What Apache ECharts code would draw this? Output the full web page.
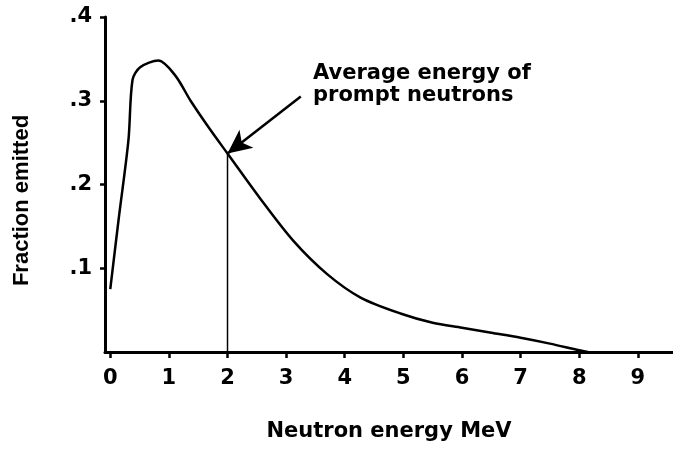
<!DOCTYPE html>
<html>
<head>
<meta charset="utf-8">
<script src="https://cdn.jsdelivr.net/npm/echarts@6/dist/echarts.min.js"></script>
<style>html,body{margin:0;padding:0;background:#fff}#c{width:673px;height:449px}</style>
</head>
<body>
<div id="c"></div>
<script>
const energyMeV = [0, 0.14, 0.31, 0.38, 0.51, 0.82, 1.11, 1.37, 1.71, 2.0, 2.56, 3.12, 3.7, 4.27, 4.95, 5.5, 6.0, 6.5, 7.0, 7.5, 8.0, 8.15];
const fractionEmitted = [0.075, 0.157, 0.253, 0.325, 0.34, 0.348, 0.33, 0.30, 0.265, 0.237, 0.183, 0.133, 0.093, 0.065, 0.046, 0.035, 0.029, 0.023, 0.017, 0.01, 0.002, 0];
const xTicks = [0, 1, 2, 3, 4, 5, 6, 7, 8, 9];
const yTicks = [0.1, 0.2, 0.3, 0.4];
const averageEnergy = [2.0, 0.237];
const arrowTail = [3.25, 0.305];
const annotationLines = ['Average energy of', 'prompt neutrons'];

const wideFont = '"DejaVu Sans", sans-serif';
const narrowFont = '"Liberation Sans", Arial, sans-serif';
const chart = echarts.init(document.getElementById('c'), null, {renderer: 'canvas'});
chart.setOption({
  animation: false,
  backgroundColor: '#fff',
  grid: {left: 105, right: 0, top: 17, bottom: 97},
  xAxis: {
    type: 'value', min: -0.09, max: 9.6,
    name: 'Neutron energy MeV', nameLocation: 'middle', nameGap: 69,
    nameTextStyle: {color: '#000', fontSize: 21, fontWeight: 'bold', fontFamily: wideFont},
    axisLine: {show: true, onZero: false, lineStyle: {color: '#000', width: 3}},
    axisTick: {show: true, customValues: xTicks, length: 6, lineStyle: {color: '#000', width: 2.5}},
    axisLabel: {customValues: xTicks, color: '#000', fontSize: 21, fontWeight: 'bold', fontFamily: wideFont, margin: 16},
    splitLine: {show: false}
  },
  yAxis: {
    type: 'value', min: 0, max: 0.4,
    name: 'Fraction emitted', nameLocation: 'middle', nameGap: 72,
    nameTextStyle: {color: '#000', fontSize: 22, fontWeight: 'bold', fontFamily: narrowFont, padding: [0, 32, 0, 0]},
    axisLine: {show: true, onZero: false, lineStyle: {color: '#000', width: 3}},
    axisTick: {show: true, customValues: yTicks, length: 5, lineStyle: {color: '#000', width: 2.5}},
    axisLabel: {customValues: yTicks, color: '#000', fontSize: 21, fontWeight: 'bold', fontFamily: wideFont, margin: 13,
      formatter: v => String(Math.round(v * 10) / 10).replace(/^0/, '')},
    splitLine: {show: false}
  },
  series: [
    {
      type: 'line', smooth: 0.3, symbol: 'none',
      data: energyMeV.map((x, i) => [x, fractionEmitted[i]]),
      lineStyle: {color: '#000', width: 2.5},
      z: 3,
      markLine: {
        silent: true, animation: false,
        symbol: ['none', 'arrow'], symbolSize: [17, 24],
        label: {show: false},
        lineStyle: {color: '#000', width: 2.5, type: 'solid'},
        data: [[{coord: arrowTail}, {coord: averageEnergy}]]
      }
    },
    {
      type: 'line', symbol: 'none',
      data: [[averageEnergy[0], 0], [averageEnergy[0], averageEnergy[1]]],
      lineStyle: {color: '#000', width: 1.5},
      z: 2
    }
  ],
  graphic: [
    {type: 'text', left: 313, top: 63, style: {text: annotationLines.join('\n'), fill: '#000', font: 'bold 21px ' + wideFont, lineHeight: 22}}
  ]
});
</script>
</body>
</html>
